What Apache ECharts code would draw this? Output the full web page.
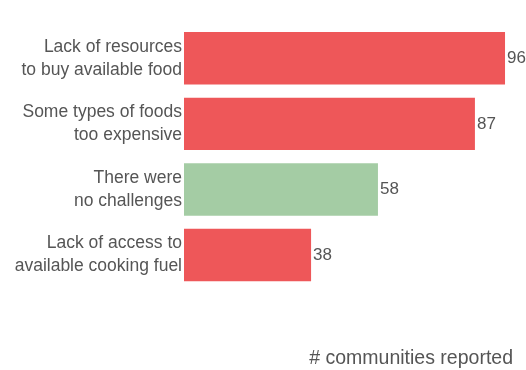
<!DOCTYPE html>
<html>
<head>
<meta charset="utf-8">
<script src="https://cdn.jsdelivr.net/npm/echarts@6/dist/echarts.min.js"></script>
<style>html,body{margin:0;padding:0;background:#fff}#c{width:526px;height:370px}</style>
</head>
<body>
<div id="c"></div>
<script>
var categories = [
  "Lack of resources\nto buy available food",
  "Some types of foods\ntoo expensive",
  "There were\nno challenges",
  "Lack of access to\navailable cooking fuel"
];
var values = [96, 87, 58, 38];
var barColors = ["#ee5759", "#ee5759", "#a4cca4", "#ee5759"];
var axisTitle = "# communities reported";

var chart = echarts.init(document.getElementById('c'), null, {renderer: 'canvas'});
var font = "'Liberation Sans', Arial, sans-serif";
chart.setOption({
  animation: false,
  title: {
    text: axisTitle,
    right: 8,
    top: 344,
    textStyle: {fontFamily: font, fontSize: 19.5, fontWeight: 'normal', color: '#555'}
  },
  grid: {left: 184, right: 7.6, top: 25.5, bottom: 82.2, containLabel: false},
  xAxis: {
    type: 'value', min: 0, max: 100, show: false
  },
  yAxis: {
    type: 'category', data: categories, inverse: true,
    axisLine: {show: false}, axisTick: {show: false}, splitLine: {show: false},
    axisLabel: {
      fontFamily: font, fontSize: 17.5, color: '#555', align: 'right',
      lineHeight: 23, margin: 2, padding: [2, 0, 0, 0]
    }
  },
  series: [{
    type: 'bar',
    barCategoryGap: '20%',
    data: values.map(function (v, i) { return {value: v, itemStyle: {color: barColors[i]}}; }),
    label: {
      show: true, position: 'right', distance: 2,
      fontFamily: font, fontSize: 17, color: '#555'
    }
  }]
});
</script>
</body>
</html>
